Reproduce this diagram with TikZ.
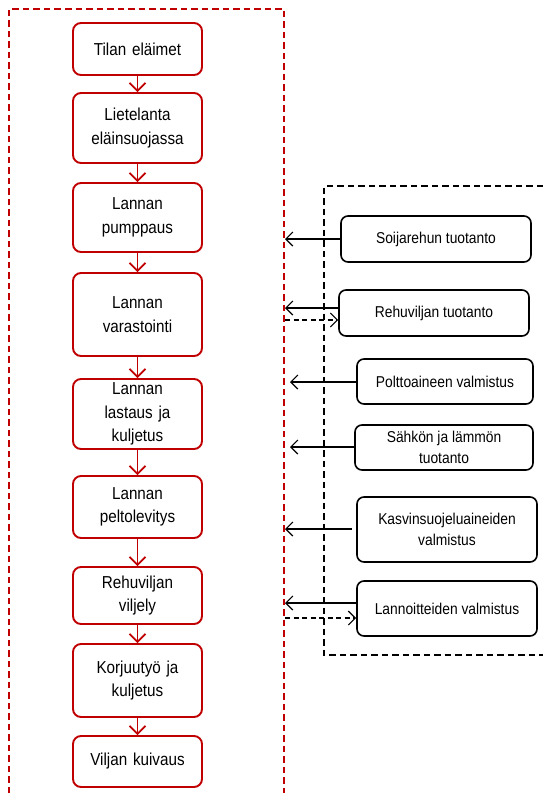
\documentclass[tikz,border=0pt]{standalone}
\usepackage{fontspec}
\setmainfont{Liberation Sans}[FakeStretch=0.88]
\usepackage{xcolor}
\usepackage{tikz}
\usetikzlibrary{arrows.meta, positioning}
\definecolor{punainen}{HTML}{C00000}

\begin{document}
\begin{tikzpicture}[x=1pt, y=-1pt,
    vaihe/.style={draw=punainen, line width=1.9pt, rounded corners=8pt, fill=white,
        minimum width=129pt, text width=125pt, align=center, inner sep=0pt,
        font=\fontsize{17.3}{23.5}\selectfont},
    tekija/.style={draw, line width=1.6pt, rounded corners=7pt, fill=white,
        align=center, inner sep=0pt, font=\fontsize{15.7}{21.5}\selectfont},
    virta/.style={-{Straight Barb[length=8pt, width=16pt, line width=1.8pt]}, draw=punainen, line width=1.8pt},
    panos/.style={-{Straight Barb[length=7pt, width=14pt, line width=1.2pt]}, line width=1.2pt},
    paluu/.style={panos, dash pattern=on 5pt off 3.5pt}]
    \useasboundingbox (0,0) rectangle (543,793);

    % Rajat
    \draw[punainen, line width=1.4pt, dash pattern=on 6.5pt off 4pt]
        (9,793) -- (9,9) -- (284,9) -- (284,793);
    \draw[line width=1.4pt, dash pattern=on 6.5pt off 4pt]
        (543,186) -- (324,186) -- (324,655) -- (543,655);

    % Vaiheet
    \node[vaihe, minimum height=52pt] (v1) at (137.5,49) {Tilan eläimet};
    \node[vaihe, minimum height=70pt] (v2) at (137.5,128) {Lietelanta\\eläinsuojassa};
    \node[vaihe, minimum height=69pt] (v3) at (137.5,217.5) {Lannan\\pumppaus};
    \node[vaihe, minimum height=83pt] (v4) at (137.5,314.5) {Lannan\\varastointi};
    \node[vaihe, minimum height=70pt] (v5) at (137.5,414) {Lannan\\lastaus ja\\kuljetus};
    \node[vaihe, minimum height=62pt] (v6) at (137.5,507) {Lannan\\peltolevitys};
    \node[vaihe, minimum height=57pt] (v7) at (137.5,595.5) {Rehuviljan\\viljely};
    \node[vaihe, minimum height=73pt] (v8) at (137.5,680.5) {Korjuutyö ja\\kuljetus};
    \node[vaihe, minimum height=51pt] (v9) at (137.5,761.5) {Viljan kuivaus};

    % Taustaprosessit
    \node[tekija, minimum width=190pt, minimum height=46pt] (k1) at (436,239) {Soijarehun tuotanto};
    \node[tekija, minimum width=190pt, minimum height=46pt] (k2) at (434,313) {Rehuviljan tuotanto};
    \node[tekija, minimum width=176pt, minimum height=45pt] (k3) at (445,381.5) {Polttoaineen valmistus};
    \node[tekija, minimum width=178pt, minimum height=45pt] (k4) at (444,447.5) {Sähkön ja lämmön\\tuotanto};
    \node[tekija, minimum width=180pt, minimum height=65pt] (k5) at (447,529.5) {Kasvinsuojeluaineiden\\valmistus};
    \node[tekija, minimum width=180pt, minimum height=55pt] (k6) at (447,608.5) {Lannoitteiden valmistus};

    \coordinate (p1) at (285,239);
    \coordinate (p2) at (285,308);
    \coordinate (q2) at (285,320);
    \coordinate (p3) at (290,382);
    \coordinate (p4) at (290,447);
    \coordinate (p5) at (285,529);
    \coordinate (p6) at (285,603);
    \coordinate (q6) at (285,618);

    % Nuolet
    \draw[virta] (v1) -- (v2);
    \draw[virta] (v2) -- (v3);
    \draw[virta] (v3) -- (v4);
    \draw[virta] (v4) -- (v5);
    \draw[virta] (v5) -- (v6);
    \draw[virta] (v6) -- (v7);
    \draw[virta] (v7) -- (v8);
    \draw[virta] (v8) -- (v9);

    \draw[panos] (k1.west) -- (p1);
    \draw[panos] (k2.west |- p2) -- (p2);
    \draw[paluu] (q2) -- (k2.west |- q2);
    \draw[panos] (k3.west |- p3) -- (p3);
    \draw[panos] (k4.west |- p4) -- (p4);
    \draw[panos, shorten <=4pt] (k5.west |- p5) -- (p5);
    \draw[panos] (k6.west |- p6) -- (p6);
    \draw[paluu] (q6) -- (k6.west |- q6);
\end{tikzpicture}
\end{document}
